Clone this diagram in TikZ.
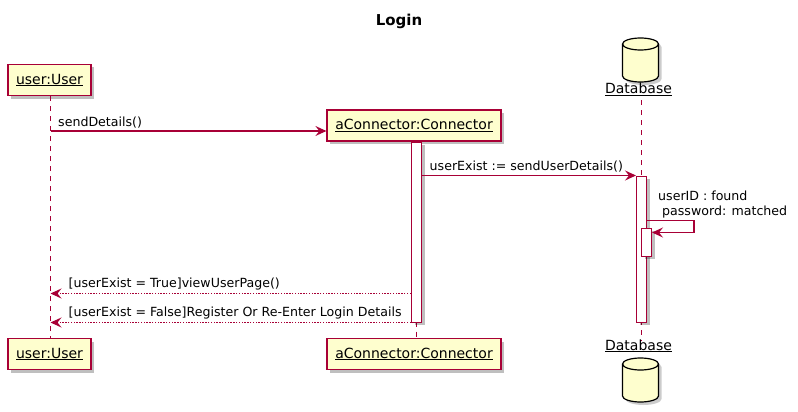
\documentclass[tikz,border=0pt]{standalone}
\usepackage{fontspec}
\setmainfont{DejaVu Sans}
\usetikzlibrary{arrows.meta, positioning, calc, shadows}
\definecolor{cBorder}{RGB}{168,0,54}
\definecolor{cFill}{RGB}{254,254,206}
\tikzset{
	partshadow/.style={drop shadow={shadow xshift=3pt, shadow yshift=-3pt, opacity=0.25, fill=black}},
	partbox/.style ={rectangle, draw=cBorder, line width=1.2pt, fill=cFill, minimum height=31pt, inner sep=0pt, font=\fontsize{14}{16}\selectfont, partshadow},
	dbname/.style  ={inner sep=0pt, anchor=base, font=\fontsize{14}{16}\selectfont},
	lifeline/.style={draw=cBorder, line width=0.9pt, dash pattern=on 5pt off 5pt},
	actbar/.style  ={rectangle, draw=cBorder, line width=1pt, fill=white, minimum width=10pt, inner sep=0pt, partshadow},
	msg/.style     ={draw=cBorder, line width=1.4pt, -{Stealth[length=11pt, width=10pt, inset=4pt]}},
	retmsg/.style  ={msg, dash pattern=on 1.4pt off 1.4pt},
	msglabel/.style={inner sep=0pt, anchor=base west, font=\fontsize{12.6}{15}\selectfont},
	% database drum, origin at the top centre
	drum/.pic={
		\fill[black, opacity=0.2] (-15,9) -- (-15,41) arc[start angle=180, end angle=0, x radius=18, y radius=6] -- (21,9) arc[start angle=0, end angle=-180, x radius=18, y radius=6] -- cycle;
		\draw[line width=1.2pt, fill=cFill] (-18,6) -- (-18,38) arc[start angle=180, end angle=0, x radius=18, y radius=6] -- (18,6) arc[start angle=0, end angle=-180, x radius=18, y radius=6] -- cycle;
		\draw[line width=1.2pt] (-18,6) arc[start angle=180, end angle=0, x radius=18, y radius=6];
	},
}
\begin{document}
\begin{tikzpicture}[x=1pt, y=-1pt]
	\useasboundingbox (0,0) rectangle (798,412);
	\node[font=\fontsize{15}{18}\selectfont\bfseries] (title) at (399,21) {Login};
	% participants
	\node[partbox, minimum width=83pt] (userTop) at (49.5,80) {\underline{user:User}};
	\node[partbox, minimum width=174pt] (connTop) at (414,125.5) {\underline{aConnector:Connector}};
	\pic at (640.5,38) {drum};
	\node[dbname] (dbTop) at (638.5,93.5) {\underline{Database}};
	\node[partbox, minimum width=83pt] (userBot) at (49.5,354) {\underline{user:User}};
	\node[partbox, minimum width=174pt] (connBot) at (414,354) {\underline{aConnector:Connector}};
	\node[dbname] (dbBot) at (638.5,350) {\underline{Database}};
	\pic at (640.5,358) {drum};
	% lifelines
	\coordinate (userL) at (50.5,0);
	\coordinate (connL) at (416.5,0);
	\coordinate (dbL) at (641.5,0);
	\draw[lifeline] (userL |- userTop.south) -- (userL |- userBot.north);
	\draw[lifeline] (connL |- connTop.south) -- (connL |- connBot.north);
	\draw[lifeline] (dbL |- 0,100) -- (dbL |- 0,341);
	% activations
	\node[actbar, minimum height=180pt] (connAct) at (416.5,232) {};
	\node[actbar, minimum height=146pt] (dbAct) at (641.5,249) {};
	\node[actbar, minimum height=28pt] (selfAct) at (646.5,242) {};
	% messages
	\coordinate (sendFrom) at (userL |- 0,131);
	\draw[msg] (sendFrom) -- (sendFrom -| connTop.west)
		node[msglabel, pos=0, xshift=7pt, yshift=5pt] {sendDetails()};
	\draw[msg] (dbAct.north west -| connAct.east) -- (dbAct.north west)
		node[msglabel, pos=0, xshift=7pt, yshift=5pt] {userExist := sendUserDetails()};
	\coordinate (selfOut) at ($(dbAct.north east)+(0,45)$);
	\coordinate (selfIn) at ($(selfAct.north east)+(0,5)$);
	\draw[msg] (selfOut) -- ++(47,0) |- (selfIn);
	\node[msglabel, align=left] (selfNote) at (658,215) {userID : found\\\hspace{4pt}password: matched};
	\coordinate (retTrue) at ($(connAct.south west)+(0,-29)$);
	\draw[retmsg] (retTrue) -- (retTrue -| userL)
		node[msglabel, pos=1, xshift=17.5pt, yshift=6.5pt] {[userExist = True]viewUserPage()};
	\draw[retmsg] (connAct.south west) -- (connAct.south west -| userL)
		node[msglabel, pos=1, xshift=17.5pt, yshift=6.5pt] {[userExist = False]Register Or Re-Enter Login Details};
\end{tikzpicture}
\end{document}
